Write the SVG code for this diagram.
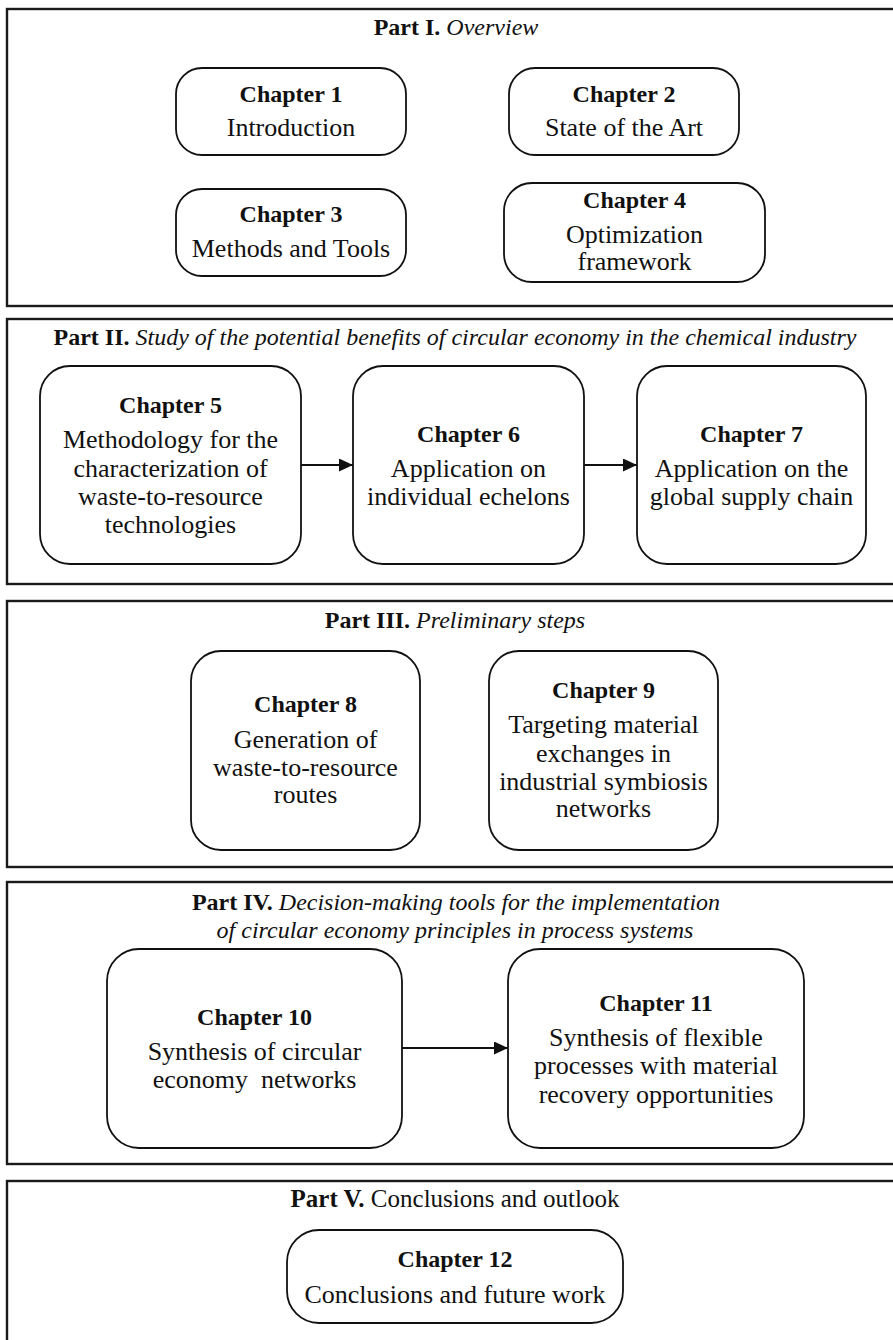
<svg xmlns="http://www.w3.org/2000/svg" width="893" height="1340" viewBox="0 0 893 1340">
  <style>
    .part { fill: none; stroke: #1a1a1a; stroke-width: 2.4; }
    .ch { fill: #ffffff; stroke: #111; stroke-width: 1.8; }
    text { font-family: "Liberation Serif", "Times New Roman", serif; fill: #111; text-anchor: middle; }
    .t { font-size: 24px; }
    .h { font-size: 24px; font-weight: bold; }
    .b { font-size: 26px; }
    .bold { font-weight: bold; }
    .it { font-style: italic; }
    .conn { stroke: #111; stroke-width: 1.8; fill: none; }
  </style>
  <defs>
    <marker id="arrow" viewBox="0 0 14 13" refX="14" refY="6.5" markerWidth="14" markerHeight="13" markerUnits="userSpaceOnUse" orient="auto">
      <path d="M0,0 L14,6.5 L0,13 Z" fill="#111"/>
    </marker>
  </defs>
  <rect width="893" height="1340" fill="#ffffff"/>

  <!-- Part I -->
  <g id="part1">
    <rect class="part" x="7" y="9" width="890" height="297"/>
    <text class="t" x="456" y="35"><tspan class="bold">Part I.</tspan> <tspan class="it">Overview</tspan></text>
  </g>
  <g id="chapter1">
    <rect class="ch" x="176" y="68" width="230" height="87" rx="26" ry="26"/>
    <text class="h" x="291" y="102">Chapter 1</text>
    <text class="b" x="291" y="136">Introduction</text>
  </g>
  <g id="chapter2">
    <rect class="ch" x="509" y="68" width="230" height="87" rx="26" ry="26"/>
    <text class="h" x="624" y="102">Chapter 2</text>
    <text class="b" x="624" y="136">State of the Art</text>
  </g>
  <g id="chapter3">
    <rect class="ch" x="176" y="189" width="230" height="87" rx="26" ry="26"/>
    <text class="h" x="291" y="222">Chapter 3</text>
    <text class="b" x="291" y="257">Methods and Tools</text>
  </g>
  <g id="chapter4">
    <rect class="ch" x="504" y="183" width="261" height="99" rx="28" ry="28"/>
    <text class="h" x="634.5" y="208">Chapter 4</text>
    <text class="b" x="634.5" y="243">Optimization</text>
    <text class="b" x="634.5" y="270">framework</text>
  </g>

  <!-- Part II -->
  <g id="part2">
    <rect class="part" x="7" y="319" width="890" height="265"/>
    <text class="t" x="455" y="345"><tspan class="bold">Part II.</tspan> <tspan class="it">Study of the potential benefits of circular economy in the chemical industry</tspan></text>
  </g>
  <g id="chapter5">
    <rect class="ch" x="40" y="366" width="261" height="198" rx="30" ry="30"/>
    <text class="h" x="170.5" y="413">Chapter 5</text>
    <text class="b" x="170.5" y="448">Methodology for the</text>
    <text class="b" x="170.5" y="477">characterization of</text>
    <text class="b" x="170.5" y="505">waste-to-resource</text>
    <text class="b" x="170.5" y="533">technologies</text>
  </g>
  <g id="chapter6">
    <rect class="ch" x="353" y="366" width="231" height="198" rx="30" ry="30"/>
    <text class="h" x="468.5" y="442">Chapter 6</text>
    <text class="b" x="468.5" y="477">Application on</text>
    <text class="b" x="468.5" y="505">individual echelons</text>
  </g>
  <g id="chapter7">
    <rect class="ch" x="637" y="366" width="229" height="198" rx="30" ry="30"/>
    <text class="h" x="751.5" y="442">Chapter 7</text>
    <text class="b" x="751.5" y="477">Application on the</text>
    <text class="b" x="751.5" y="505">global supply chain</text>
  </g>

  <!-- Part III -->
  <g id="part3">
    <rect class="part" x="7" y="601" width="890" height="266"/>
    <text class="t" x="455" y="628"><tspan class="bold">Part III.</tspan> <tspan class="it">Preliminary steps</tspan></text>
  </g>
  <g id="chapter8">
    <rect class="ch" x="191" y="651" width="229" height="199" rx="30" ry="30"/>
    <text class="h" x="305.5" y="712">Chapter 8</text>
    <text class="b" x="305.5" y="748">Generation of</text>
    <text class="b" x="305.5" y="776">waste-to-resource</text>
    <text class="b" x="305.5" y="803">routes</text>
  </g>
  <g id="chapter9">
    <rect class="ch" x="489" y="651" width="229" height="199" rx="30" ry="30"/>
    <text class="h" x="603.5" y="698">Chapter 9</text>
    <text class="b" x="603.5" y="733">Targeting material</text>
    <text class="b" x="603.5" y="762">exchanges in</text>
    <text class="b" x="603.5" y="790">industrial symbiosis</text>
    <text class="b" x="603.5" y="817">networks</text>
  </g>

  <!-- Part IV -->
  <g id="part4">
    <rect class="part" x="7" y="882" width="890" height="282"/>
    <text class="t" x="456" y="910"><tspan class="bold">Part IV.</tspan> <tspan class="it">Decision-making tools for the implementation</tspan></text>
    <text class="t it" x="455" y="938">of circular economy principles in process systems</text>
  </g>
  <g id="chapter10">
    <rect class="ch" x="107" y="949" width="295" height="199" rx="32" ry="32"/>
    <text class="h" x="254.5" y="1025">Chapter 10</text>
    <text class="b" x="254.5" y="1060">Synthesis of circular</text>
    <text class="b" x="254.5" y="1088">economy&#160; networks</text>
  </g>
  <g id="chapter11">
    <rect class="ch" x="508" y="949" width="296" height="199" rx="32" ry="32"/>
    <text class="h" x="656" y="1011">Chapter 11</text>
    <text class="b" x="656" y="1046">Synthesis of flexible</text>
    <text class="b" x="656" y="1074">processes with material</text>
    <text class="b" x="656" y="1103">recovery opportunities</text>
  </g>

  <!-- Part V -->
  <g id="part5">
    <rect class="part" x="7" y="1181" width="890" height="170"/>
    <text x="455" y="1207" style="font-size:25px"><tspan class="bold">Part V.</tspan> Conclusions and outlook</text>
  </g>
  <g id="chapter12">
    <rect class="ch" x="287" y="1230" width="336" height="93" rx="32" ry="32"/>
    <text class="h" x="455" y="1267">Chapter 12</text>
    <text class="b" x="455" y="1303">Conclusions and future work</text>
  </g>

  <!-- Connectors -->
  <g id="connectors">
    <line class="conn" x1="301" y1="465" x2="353" y2="465" marker-end="url(#arrow)"/>
    <line class="conn" x1="584" y1="465" x2="637" y2="465" marker-end="url(#arrow)"/>
    <line class="conn" x1="402" y1="1048" x2="508" y2="1048" marker-end="url(#arrow)"/>
  </g>
</svg>
